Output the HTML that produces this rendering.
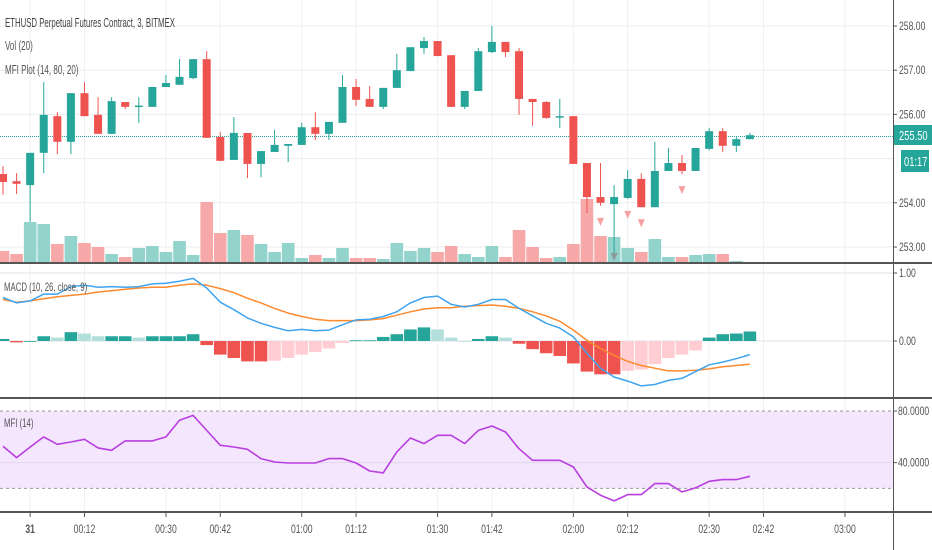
<!DOCTYPE html>
<html><head><meta charset="utf-8">
<style>
html,body{margin:0;padding:0;background:#fff;width:932px;height:550px;overflow:hidden}
svg{display:block;font-family:"Liberation Sans",sans-serif}
</style></head>
<body>
<svg id="chart" width="932" height="550" viewBox="0 0 932 550" xmlns="http://www.w3.org/2000/svg"></svg>
<script>
// ---- data ----
const opens=[254.65,254.49,254.40,255.13,255.96,255.38,256.48,255.99,255.56,256.28,256.18,256.17,256.62,256.67,256.82,257.25,255.49,254.97,255.58,254.88,255.15,255.29,255.31,255.71,255.56,255.81,256.62,256.35,256.17,256.60,256.98,257.50,257.66,257.34,256.17,256.53,257.41,257.64,257.43,256.35,256.28,255.94,255.96,254.90,254.13,253.97,254.11,254.54,253.90,254.72,254.90,254.72,255.22,255.62,255.29,255.44];
const highs=[254.83,254.67,255.13,256.73,256.05,256.48,256.73,256.39,256.39,256.28,256.39,256.62,256.89,257.25,257.25,257.43,255.60,255.94,255.58,255.17,255.65,255.33,255.81,256.05,255.83,256.89,256.80,256.64,256.60,257.37,257.52,257.75,257.66,257.34,256.53,257.50,258.00,257.64,257.50,256.35,256.30,256.35,255.96,254.90,254.90,254.40,254.74,254.67,255.38,255.24,255.08,255.24,255.69,255.69,255.49,255.58];
const lows=[254.18,254.20,253.57,254.67,255.10,255.10,255.96,255.56,255.56,256.12,255.81,256.17,256.62,256.67,256.80,255.47,254.95,254.97,254.56,254.58,255.15,254.92,255.31,255.42,255.42,255.81,256.19,256.17,256.12,256.60,256.98,257.37,257.32,256.17,256.12,256.53,257.39,257.30,255.99,255.74,255.90,255.69,254.88,253.77,253.93,252.75,254.09,253.90,253.90,254.72,254.65,254.72,255.19,255.15,255.15,255.44];
const closes=[254.47,254.43,255.13,255.99,255.38,256.48,255.96,255.56,256.30,256.17,256.20,256.62,256.71,256.85,257.25,255.47,254.95,255.58,254.88,255.17,255.31,255.33,255.71,255.56,255.83,256.62,256.33,256.17,256.60,257.00,257.52,257.66,257.32,256.17,256.53,257.43,257.64,257.41,256.35,256.28,255.92,255.96,254.88,254.13,254.00,254.13,254.54,253.90,254.72,254.90,254.72,255.24,255.62,255.29,255.44,255.53];
const volumes=[12,9,41,39,19,27,20,16,9,6,15,17,11,22,8,61,30,33,28,19,11,20,5,8,5,15,5,5,4,20,12,15,11,17,9,6,17,6,33,16,5,6,19,64,27,26,15,11,24,6,6,8,9,9,2,1];
const macdHist=[0.03,-0.02,0,0.07,0.05,0.13,0.11,0.07,0.07,0.07,0.05,0.07,0.07,0.07,0.10,-0.06,-0.20,-0.25,-0.30,-0.30,-0.29,-0.25,-0.20,-0.16,-0.11,-0.03,0.01,0.01,0.06,0.10,0.17,0.20,0.17,0.05,0,0.03,0.07,0.05,-0.04,-0.12,-0.18,-0.22,-0.33,-0.45,-0.49,-0.49,-0.44,-0.42,-0.34,-0.25,-0.20,-0.14,0.05,0.10,0.11,0.14];
const macdLine=[0.64,0.56,0.59,0.69,0.69,0.80,0.82,0.79,0.80,0.79,0.80,0.84,0.85,0.88,0.92,0.78,0.57,0.46,0.34,0.26,0.20,0.15,0.17,0.15,0.16,0.24,0.31,0.32,0.36,0.43,0.56,0.64,0.66,0.54,0.50,0.54,0.61,0.61,0.48,0.37,0.26,0.19,0.06,-0.18,-0.40,-0.53,-0.59,-0.66,-0.64,-0.58,-0.55,-0.45,-0.35,-0.31,-0.26,-0.20];
const signalLine=[0.61,0.57,0.59,0.62,0.65,0.67,0.69,0.72,0.74,0.76,0.78,0.79,0.79,0.82,0.84,0.82,0.77,0.71,0.63,0.56,0.48,0.41,0.36,0.32,0.30,0.30,0.30,0.31,0.33,0.38,0.43,0.47,0.49,0.49,0.51,0.52,0.53,0.51,0.48,0.43,0.37,0.29,0.16,0.01,-0.11,-0.21,-0.30,-0.36,-0.40,-0.44,-0.44,-0.43,-0.41,-0.38,-0.36,-0.34];
const mfi=[52.6,43.9,52.1,59.9,54.2,56,58.1,51.4,49.5,56.8,56.8,56.8,59.9,72.8,76.6,65,53.4,52.1,50.3,43.1,40.5,39.7,39.7,39.7,43.1,43.1,39.7,33.5,32,48.3,59.1,54.7,61.2,61.2,54.7,65,68.4,63.7,50.8,41.8,41.8,41.8,36.6,21.2,14.7,10.3,15.2,15.2,23.7,23.7,17.3,20.4,25.5,26.8,26.8,29.4];
const signalMarks=[44,46,47,50];
const priceTicks=[258,257,256,255,254,253];
const priceTickLabels=["258.00","257.00","256.00","","254.00","253.00"];
const macdTicks=[1,0];
const macdTickLabels=["1.00","0.00"];
const mfiTicks=[80,40];
const mfiTickLabels=["80.0000","40.0000"];
const timeTicks=[2,6,12,16,22,26,32,36,42,46,52,56,62];
const timeLabels=["31","00:12","00:30","00:42","01:00","01:12","01:30","01:42","02:00","02:12","02:30","02:42","03:00"];

// ---- axes ----
const PW=893;
const bx=i=>3+i*13.58;
const py=p=>26+(258-p)*44.2;
const vy=v=>263-v*1.0;
const my=v=>341-v*68;
const fy=v=>411+(80-v)*1.29;
const svg=document.getElementById('chart');
const NS='http://www.w3.org/2000/svg';
function mk(tag,attrs,parent){const e=document.createElementNS(NS,tag);for(const k in attrs)e.setAttribute(k,attrs[k]);(parent||svg).appendChild(e);return e;}

// grid
const grid=mk('g',{});


timeTicks.forEach(t=>{mk('line',{x1:bx(t),x2:bx(t),y1:0,y2:512,stroke:'#eef0f3','stroke-width':1},grid);});
priceTicks.forEach(p=>{mk('line',{x1:0,x2:PW,y1:py(p),y2:py(p),stroke:'#e9ecf0','stroke-width':1},grid);});
macdTicks.forEach(v=>{mk('line',{x1:0,x2:PW,y1:my(v),y2:my(v),stroke:'#e9ecf0','stroke-width':1.5},grid);});

// MFI band
const band=mk('rect',{x:0,y:fy(80),width:PW,height:fy(20)-fy(80),fill:'#f3e6fd'});


mk('line',{x1:0,x2:PW,y1:fy(40),y2:fy(40),stroke:'#e2d6ee','stroke-width':1});
[80,20].forEach(v=>{const l=mk('line',{x1:0,x2:PW,y1:fy(v),y2:fy(v),stroke:'#999','stroke-width':1,'stroke-dasharray':'3,3'});

});

// volume
const volG=mk('g',{});


volumes.forEach((v,i)=>{const up=closes[i]>=opens[i];
const r=mk('rect',{x:bx(i)-6.3,y:vy(v),width:12.6,height:263-vy(v),fill:up?'#92d3cc':'#f6a9a8'},volG);

});

// current price line
mk('line',{x1:0,x2:PW,y1:py(255.5),y2:py(255.5),stroke:'#26a69a','stroke-width':1,'stroke-dasharray':'1,1'});

// candles
const cG=mk('g',{});


opens.forEach((o,i)=>{const c=closes[i];const col=c>=o?'#26a69a':'#ef5350';const x=bx(i);
mk('line',{x1:x,x2:x,y1:py(highs[i]),y2:py(lows[i]),stroke:col,'stroke-width':1},cG);
const top=py(Math.max(o,c)),h=Math.max(1.5,Math.abs(py(o)-py(c)));
const r=mk('rect',{x:x-4,y:top,width:8,height:h,fill:col},cG);

});
signalMarks.forEach(i=>{const x=bx(i),y=py(lows[i])+12;
const t=mk('polygon',{points:`${x-3.5},${y} ${x+3.5},${y} ${x},${y+8}`,fill:'#f7a0a0'});

});
{const x=bx(45),y=253;mk('polygon',{points:`${x-3.5},${y} ${x+3.5},${y} ${x},${y+8}`,fill:'#8a9a9a'});}

// MACD histogram
const hG=mk('g',{});


macdHist.forEach((v,i)=>{const prev=i>0?macdHist[i-1]:0;let col;
if(v>=0)col=v>=prev?'#26a69a':'#b2dfdb';else col=v<=prev?'#ef5350':'#ffcdd2';
const y0=my(0),y1=my(v);
const r=mk('rect',{x:bx(i)-6.3,y:Math.min(y0,y1),width:12.6,height:Math.max(0.8,Math.abs(y1-y0)),fill:col},hG);

});
function path(arr,fy2,stroke,name,w){const d=arr.map((v,i)=>(i?'L':'M')+bx(i).toFixed(1)+','+fy2(v).toFixed(1)).join(' ');
const p=mk('path',{d:d,fill:'none',stroke:stroke,'stroke-width':w||1.5,'stroke-linejoin':'round'});

}
path(signalLine,my,'#ff8a2e','macd-signal-line');
path(macdLine,my,'#3fa4ee','macd-line');
path(mfi,fy,'#b93ee0','mfi-line',1.6);

// separators
[263,398,512].forEach(y=>{mk('rect',{x:0,y:y-1,width:932,height:2,fill:'#555'});});
mk('rect',{x:PW,y:0,width:1,height:550,fill:'#555'});

// axis labels (condensed text like reference)
function txt(x,y,s,name,opts,sq){const t=mk('text',Object.assign({x:x,y:y,'font-size':11,fill:'#555'},opts||{}));t.textContent=s;


const f=sq||0.72;const L=t.getComputedTextLength();
if(L>0){t.setAttribute('textLength',(L*f).toFixed(1));t.setAttribute('lengthAdjust','spacingAndGlyphs');}
return t;}
priceTicks.forEach((p,i)=>{if(!priceTickLabels[i])return;mk('line',{x1:PW,x2:PW+4,y1:py(p),y2:py(p),stroke:'#555'});txt(PW+6,py(p)+4,priceTickLabels[i],'price-tick-label',{'font-size':12});});
macdTicks.forEach((v,i)=>{mk('line',{x1:PW,x2:PW+4,y1:my(v),y2:my(v),stroke:'#555'});txt(PW+6,my(v)+4,macdTickLabels[i],'macd-tick-label',{'font-size':12});});
mfiTicks.forEach((v,i)=>{mk('line',{x1:PW,x2:PW+4,y1:fy(v),y2:fy(v),stroke:'#555'});txt(PW+5,fy(v)+4,mfiTickLabels[i],'mfi-tick-label',{'font-size':12});});
timeTicks.forEach((t,i)=>{mk('line',{x1:bx(t),x2:bx(t),y1:512,y2:517,stroke:'#555'});txt(bx(t),533,timeLabels[i],'time-tick-label',{'text-anchor':'middle','font-size':12,'font-weight':i===0?'bold':'normal'});});

// price badges
const b1=mk('rect',{x:894,y:125,width:38,height:20,fill:'#26a69a'});


txt(899,140,'255.50','last-price-label',{fill:'#fff','font-size':13});
mk('rect',{x:901,y:150,width:28,height:22,fill:'#26a69a'});
txt(904,166,'01:17','countdown-label',{fill:'#fff','font-size':13});

// legends
txt(5,27,'ETHUSD Perpetual Futures Contract, 3, BITMEX','symbol-title',{'font-size':13,fill:'#444'},0.6);
txt(5,50,'Vol (20)','volume-legend',{'font-size':13,fill:'#555'},0.62);
txt(5,74,'MFI Plot (14, 80, 20)','mfi-plot-legend',{'font-size':13,fill:'#555'},0.62);
txt(4,291,'MACD (10, 26, close, 9)','macd-legend',{'font-size':12,fill:'#555'},0.65);
txt(4,427,'MFI (14)','mfi-legend',{'font-size':12,fill:'#555'},0.65);
</script>
</body></html>
